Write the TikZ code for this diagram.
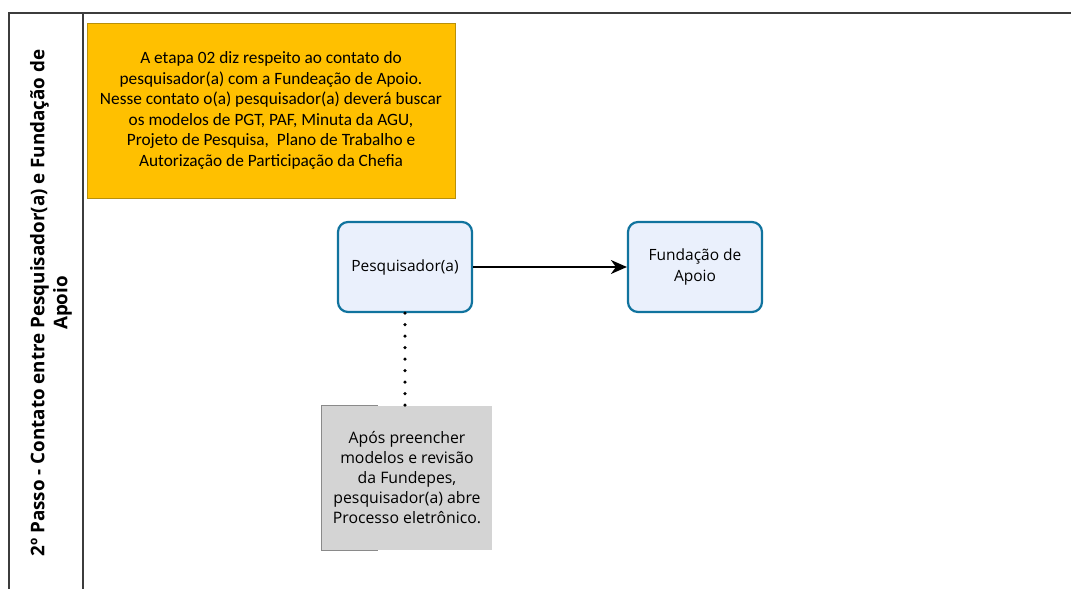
\documentclass[tikz,border=0pt]{standalone}
\usepackage{fontspec}
\setmainfont{Open Sans}
\newfontfamily\calibri{Carlito}
\usetikzlibrary{arrows.meta}
\definecolor{orangefill}{HTML}{FFC000}
\definecolor{orangeline}{HTML}{B8900A}
\definecolor{bluefill}{HTML}{EAF0FC}
\definecolor{blueline}{HTML}{10739E}
\definecolor{grayfill}{HTML}{D4D4D4}
\definecolor{grayline}{HTML}{8A8A8A}
\definecolor{laneline}{HTML}{3C3C3C}
\tikzset{
  lane/.style={draw=laneline, line width=1.5pt},
  notebox/.style={draw=orangeline, fill=orangefill, line width=1pt, minimum width=368pt, minimum height=175pt, align=center, font=\calibri\fontsize{17.3}{20.6}\selectfont, inner sep=0pt},
  actor/.style={draw=blueline, fill=bluefill, line width=2.2pt, rounded corners=10pt, minimum width=134pt, minimum height=90pt, align=center, font=\fontsize{15.5}{20.5}\selectfont, inner sep=0pt},
  annot/.style={fill=grayfill, minimum width=170pt, minimum height=144pt, align=center, font=\fontsize{15.8}{20}\selectfont, inner sep=0pt},
  flow/.style={line width=1.5pt, -{Stealth[length=16pt,width=14pt,inset=5pt]}},
  assoc/.style={line width=3.6pt, line cap=round, dash pattern=on 0pt off 11.5pt}
}
\begin{document}
\begin{tikzpicture}[x=1pt,y=-1pt]
\useasboundingbox (0,0) rectangle (1071,589);
\fill[white] (0,0) rectangle (1071,589);
% lane
\draw[lane] (9,589) -- (9,13) -- (1071,13);
\draw[lane] (83,13) -- (83,589);
\node[rotate=90, align=center, font=\bfseries\fontsize{18.8}{23}\selectfont] (lanelabel) at (51,303)
  {2º Passo - Contato entre Pesquisador(a) e Fundação de\\Apoio};
% nodes
\node[notebox] (note) at (271,110.5) {A etapa 02 diz respeito ao contato do\\pesquisador(a) com a Fundeação de Apoio.\\Nesse contato o(a) pesquisador(a) deverá buscar\\os modelos de PGT, PAF, Minuta da AGU,\\Projeto de Pesquisa,\ \ Plano de Trabalho e\\Autorização de Participação da Chefia};
\node[actor] (pesq) at (405,267) {Pesquisador(a)};
\node[actor] (fund) at (695,267) {Fundação de\\Apoio};
\node[annot] (ann) at (407,478) {Após preencher\\modelos e revisão\\da Fundepes,\\pesquisador(a) abre\\Processo eletrônico.};
\draw[grayline, line width=1pt] ([xshift=56pt]ann.north west) -- (ann.north west) -- (ann.south west) -- ([xshift=56pt]ann.south west);
% connectors
\draw[flow] (pesq.east) -- (fund.west);
\draw[assoc] (pesq.south) -- (pesq.south |- ann.north);
\end{tikzpicture}
\end{document}
